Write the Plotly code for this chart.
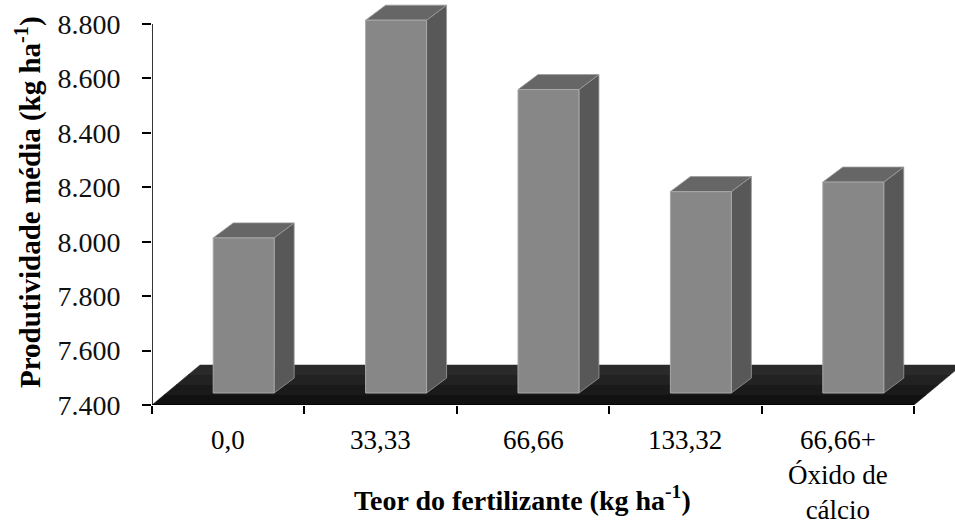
import plotly.graph_objects as go

# Data
categorias = ["0,0", "33,33", "66,66", "133,32", "66,66+<br>Óxido de<br>cálcio"]
produtividade = [7970, 8770, 8515, 8140, 8175]  # kg ha-1
y_ticks = [7400, 7600, 7800, 8000, 8200, 8400, 8600, 8800]

FONT = "Liberation Serif"

# Page / plot-area geometry (pixels)
W, H = 955, 529
PLOT_L, PLOT_B = 152, 405          # left edge and floor front line
PX_PER_CAT = 152.4
PX_PER_UNIT = (405 - 24) / (y_ticks[-1] - y_ticks[0])
Y0 = y_ticks[0]

def cx(px):   # pixel offset -> category units
    return px / PX_PER_CAT

def cy(px):   # pixel offset -> value units
    return px / PX_PER_UNIT

def paper_x(px):  # page pixel -> paper (plot-domain) fraction
    return (px - PLOT_L) / (W - PLOT_L)

def paper_y(py):
    return (PLOT_B - py) / PLOT_B

n = len(categorias)
x_min = -0.5
x_max = x_min + (W - PLOT_L) / PX_PER_CAT
y_max = Y0 + cy(PLOT_B)

# 3-D pseudo depth offsets
floor_dx, floor_dy = cx(48), cy(40)
bar_dx, bar_dy = cx(20), cy(15)
bar_shift_x, bar_shift_y = cx(15), cy(12)   # bar sits inside the floor depth
bar_w = 0.4

fig = go.Figure()

def poly(xs, ys, color, line="rgba(0,0,0,0)", lw=0):
    fig.add_trace(go.Scatter(
        x=xs + [xs[0]], y=ys + [ys[0]], mode="lines", fill="toself",
        fillcolor=color, line=dict(color=line, width=lw),
        hoverinfo="skip", showlegend=False))

# Floor: darker front band, lighter back band
for k, col in enumerate(["#111111", "#1a1a1a", "#222222", "#2a2a2a"]):
    f0, f1 = k / 4, (k + 1) / 4
    poly([x_min + floor_dx * f0, n - 0.5 + floor_dx * f0,
          n - 0.5 + floor_dx * f1, x_min + floor_dx * f1],
         [Y0 + floor_dy * f0, Y0 + floor_dy * f0,
          Y0 + floor_dy * f1, Y0 + floor_dy * f1], col, col, 0.5)

# Bars: side, top, front
for i, v in enumerate(produtividade):
    xl = i - bar_shift_x
    xr = xl + bar_w
    yb = Y0 + bar_shift_y
    yt = yb + (v - Y0)
    poly([xr, xr + bar_dx, xr + bar_dx, xr],
         [yb, yb + bar_dy, yt + bar_dy, yt], "#585858", "#9a9a9a", 0.8)
    poly([xl, xr, xr + bar_dx, xl + bar_dx],
         [yt, yt, yt + bar_dy, yt + bar_dy], "#666666", "#9a9a9a", 0.8)
    poly([xl, xr, xr, xl], [yb, yb, yt, yt], "#878787", "#a8a8a8", 1)

# Axis lines
fig.add_shape(type="line", x0=x_min, x1=x_min, y0=Y0, y1=y_ticks[-1],
              xref="x", yref="y", line=dict(color="black", width=1.6))
fig.add_shape(type="line", x0=x_min, x1=n - 0.5, y0=Y0, y1=Y0,
              xref="x", yref="y", line=dict(color="black", width=1.6))

# Category labels
for i, lab in enumerate(categorias):
    fig.add_annotation(x=i, y=0, xref="x", yref="paper", text=lab,
                       showarrow=False, yanchor="top", yshift=-18,
                       font=dict(family=FONT, size=27, color="black"))

# Axis titles
fig.add_annotation(x=paper_x(522), y=paper_y(498), xref="paper", yref="paper",
                   text="<b>Teor do fertilizante (kg ha<sup>-1</sup>)</b>",
                   showarrow=False, xanchor="center", yanchor="middle",
                   font=dict(family=FONT, size=28, color="black"))
fig.add_annotation(x=paper_x(28), y=paper_y(202), xref="paper", yref="paper",
                   text="<b>Produtividade média (kg ha<sup>-1</sup>)</b>",
                   showarrow=False, xanchor="center", yanchor="middle",
                   textangle=-90,
                   font=dict(family=FONT, size=29, color="black"))

fig.update_layout(
    width=W, height=H,
    font=dict(family=FONT),
    margin=dict(l=PLOT_L, r=0, t=0, b=H - PLOT_B),
    paper_bgcolor="white", plot_bgcolor="white",
    separators=",.",
    showlegend=False,
    xaxis=dict(range=[x_min, x_max], showgrid=False, zeroline=False,
               showline=False, tickmode="array",
               tickvals=[k - 0.5 for k in range(n + 1)],
               showticklabels=False, ticks="outside", ticklen=8,
               tickwidth=1.5, tickcolor="black", fixedrange=True),
    yaxis=dict(range=[Y0, y_max], showgrid=False, zeroline=False,
               showline=False, tickmode="array", tickvals=y_ticks,
               tickformat=",d", ticks="outside", ticklen=9, tickwidth=1.5,
               tickcolor="black", ticklabelstandoff=16,
               tickfont=dict(family=FONT, size=28, color="#111111"),
               fixedrange=True),
)

fig.write_html("out.html")
